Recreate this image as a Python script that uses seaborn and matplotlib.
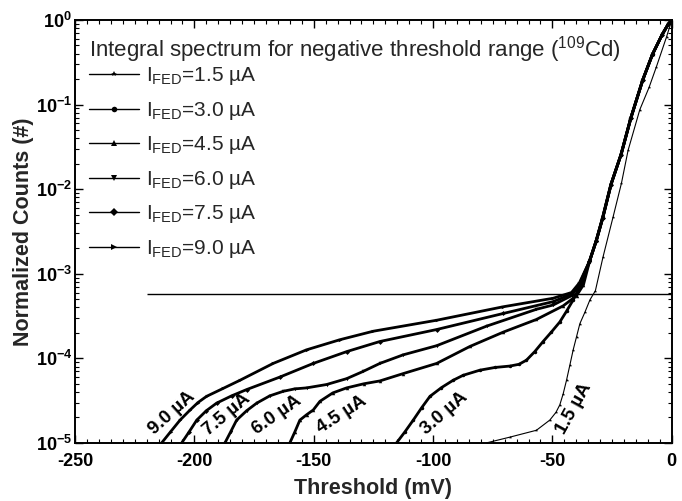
import numpy as np
import pandas as pd
import matplotlib
matplotlib.use("Agg")
import matplotlib.pyplot as plt
import seaborn as sns
from matplotlib.ticker import MultipleLocator, LogLocator, FuncFormatter, NullFormatter

# ---------------- data ----------------
series_names = ["1.5", "3.0", "4.5", "6.0", "7.5", "9.0"]

thr_1p5 = [-77.6, -67.8, -56.7, -51.1, -48.5, -46.9, -45.5, -44.1, -42.7, -41.3, -39.9, -38.5,
           -36.4, -34.3, -32.0, -28.8, -24.6, -21.1, -18.3, -13.4, -9.5, -6.4, -2.2, 0.0]
cnt_1p5 = [1.0e-5, 1.17e-5, 1.41e-5, 1.86e-5, 2.3e-5, 2.82e-5, 3.8e-5, 5.5e-5, 8.3e-5, 1.26e-4,
           1.8e-4, 2.57e-4, 3.5e-4, 4.9e-4, 6.3e-4, 1.58e-3, 4.68e-3, 1.17e-2, 2.88e-2, 8.7e-2,
           0.16, 0.282, 0.631, 1.0]

thr_3p0 = [-115.3, -111.8, -108.3, -104.8, -101.3, -96.5, -91.6, -87.4, -80.4, -74.0, -67.8,
           -64.0, -60.9, -57.4, -53.9, -50.4, -46.9, -44.1, -41.3, -37.8, -34.5, -31.6, -28.9,
           -25.4, -21.2, -17.1, -12.1, -8.0, -4.0, -1.5, 0.0]
cnt_3p0 = [1.0e-5, 1.35e-5, 1.86e-5, 2.6e-5, 3.55e-5, 4.5e-5, 5.5e-5, 6.3e-5, 7.24e-5, 7.8e-5,
           8.1e-5, 8.5e-5, 9.5e-5, 1.2e-4, 1.58e-4, 2.05e-4, 2.69e-4, 3.6e-4, 4.9e-4, 7.76e-4,
           1.38e-3, 2.45e-3, 4.6e-3, 1.15e-2, 2.6e-2, 7.0e-2, 0.198, 0.398, 0.676, 0.891, 1.0]

thr_4p5 = [-160.0, -157.9, -155.8, -153.0, -150.2, -147.4, -142.0, -136.2, -129.0, -122.3,
           -112.5, -98.5, -84.6, -70.6, -56.7, -45.5, -39.9, -37.0, -34.3, -31.5, -28.8, -25.3,
           -21.1, -17.0, -12.0, -8.0, -4.0, -1.5, 0.0]
cnt_4p5 = [1.0e-5, 1.35e-5, 1.86e-5, 2.15e-5, 2.45e-5, 3.1e-5, 3.9e-5, 4.47e-5, 5.0e-5, 5.4e-5,
           6.6e-5, 8.7e-5, 1.38e-4, 2.04e-4, 2.88e-4, 4.17e-4, 5.5e-4, 7.4e-4, 1.45e-3, 2.51e-3,
           4.68e-3, 1.17e-2, 2.63e-2, 7.08e-2, 0.200, 0.398, 0.676, 0.891, 1.0]

thr_6p0 = [-187.2, -184.8, -182.3, -178.1, -173.9, -168.4, -162.8, -158.0, -153.0, -144.6,
           -136.2, -129.3, -122.3, -112.5, -98.5, -77.6, -56.7, -49.7, -42.0, -38.5, -34.4,
           -31.6, -28.9, -25.4, -21.2, -17.1, -12.1, -8.1, -4.0, -1.5, 0.0]
cnt_6p0 = [1.0e-5, 1.35e-5, 1.86e-5, 2.4e-5, 2.95e-5, 3.6e-5, 4.07e-5, 4.35e-5, 4.47e-5, 4.9e-5,
           5.75e-5, 7.0e-5, 8.7e-5, 1.10e-4, 1.41e-4, 2.4e-4, 3.8e-4, 4.27e-4, 5.5e-4, 7.4e-4,
           1.42e-3, 2.48e-3, 4.6e-3, 1.15e-2, 2.6e-2, 7.0e-2, 0.198, 0.395, 0.672, 0.89, 1.0]

thr_7p5 = [-205.3, -202.2, -199.0, -195.0, -190.7, -184.4, -178.1, -164.2, -150.2, -136.2,
           -122.3, -98.5, -70.6, -49.7, -42.0, -38.6, -34.5, -31.7, -29.0, -25.5, -21.3, -17.2,
           -12.2, -8.1, -4.1, -1.5, 0.0]
cnt_7p5 = [1.0e-5, 1.35e-5, 1.86e-5, 2.4e-5, 2.95e-5, 3.6e-5, 4.27e-5, 6.0e-5, 8.7e-5, 1.20e-4,
           1.58e-4, 2.19e-4, 3.39e-4, 4.68e-4, 5.75e-4, 7.6e-4, 1.4e-3, 2.45e-3, 4.55e-3, 1.13e-2,
           2.55e-2, 6.9e-2, 0.195, 0.39, 0.67, 0.89, 1.0]

thr_9p0 = [-213.7, -210.0, -206.0, -201.8, -198.5, -194.9, -188.0, -180.9, -167.0, -153.0,
           -139.0, -125.1, -98.5, -70.6, -49.7, -42.0, -38.7, -34.6, -31.8, -29.1, -25.6, -21.4,
           -17.3, -12.3, -8.2, -4.1, -1.6, 0.0]
cnt_9p0 = [1.0e-5, 1.35e-5, 1.86e-5, 2.45e-5, 3.0e-5, 3.55e-5, 4.4e-5, 5.5e-5, 8.7e-5, 1.26e-4,
           1.66e-4, 2.09e-4, 2.82e-4, 4.07e-4, 5.13e-4, 6.0e-4, 7.8e-4, 1.38e-3, 2.4e-3, 4.5e-3,
           1.12e-2, 2.5e-2, 6.8e-2, 0.192, 0.385, 0.665, 0.885, 1.0]

hline_level = 5.8e-4
hline_start = -220
hline_end = 0

legend_title = "Integral spectrum for negative threshold range ($^{109}$Cd)"
legend_labels = [r"I$_{\mathrm{FED}}$=" + s + " \u00b5A" for s in series_names]
curve_labels = [s + " \u00b5A" for s in series_names]

x_ticks = [-250, -200, -150, -100, -50, 0]

# ---------------- style ----------------
sns.set_theme(style="ticks")
plt.rcParams["font.family"] = ["Liberation Sans", "DejaVu Sans"]
plt.rcParams["mathtext.fontset"] = "custom"
plt.rcParams["mathtext.rm"] = "Liberation Sans"
plt.rcParams["mathtext.it"] = "Liberation Sans:italic"
plt.rcParams["mathtext.bf"] = "Liberation Sans:bold"

thr_all = [thr_1p5, thr_3p0, thr_4p5, thr_6p0, thr_7p5, thr_9p0]
cnt_all = [cnt_1p5, cnt_3p0, cnt_4p5, cnt_6p0, cnt_7p5, cnt_9p0]
rows = []
for name, lab, xs, ys in zip(series_names, legend_labels, thr_all, cnt_all):
    for xv, yv in zip(xs, ys):
        rows.append({"Threshold": xv, "Counts": yv, "series": lab})
df = pd.DataFrame(rows)

fig = plt.figure(figsize=(6.82, 5.01), dpi=100)
ax = fig.add_axes([0.110, 0.116, 0.875, 0.844])

marker_list = ["*", "o", "^", "v", "D", ">"]
sns.lineplot(data=df, x="Threshold", y="Counts", hue="series", style="series",
             hue_order=legend_labels, style_order=legend_labels,
             palette=["black"] * 6, markers=marker_list, dashes=False,
             markersize=2.5, markeredgewidth=0, linewidth=2.0, sort=False,
             estimator=None, ax=ax, legend=True)

# thinner 1.5 uA curve
lines = ax.get_lines()
if lines:
    lines[0].set_linewidth(0.8)

ax.hlines(hline_level, hline_start, hline_end, color="black", linewidth=1.0)

ax.set_yscale("log")
ax.set_xlim(-250, 0)
ax.set_ylim(1e-5, 1)

ax.set_xticks(x_ticks)
ax.xaxis.set_minor_locator(MultipleLocator(5))
ax.yaxis.set_major_locator(LogLocator(base=10, numticks=10))
ax.yaxis.set_minor_locator(LogLocator(base=10, subs=np.arange(2, 10), numticks=20))
ax.yaxis.set_minor_formatter(NullFormatter())
ax.yaxis.set_major_formatter(FuncFormatter(lambda v, p: r"$\mathbf{10^{%d}}$" % int(round(np.log10(v)))))
ax.xaxis.set_major_formatter(FuncFormatter(lambda v, p: "%d" % v))

ax.tick_params(which="both", direction="in", top=True, right=True, colors="black")
ax.tick_params(which="major", length=6, width=1.0, labelsize=13)
ax.tick_params(axis="x", which="major", pad=7)
ax.tick_params(axis="y", which="major", pad=2)
ax.tick_params(which="minor", length=3, width=0.8)
for lbl in ax.get_xticklabels():
    lbl.set_fontweight("bold")
for sp in ax.spines.values():
    sp.set_linewidth(1.4)
    sp.set_color("black")

ax.set_xlabel("Threshold (mV)", fontsize=15.5, fontweight="bold", labelpad=6)
ax.set_ylabel("Normalized Counts (#)", fontsize=15.5, fontweight="bold", labelpad=1)

# legend
handles, labels = ax.get_legend_handles_labels()
leg = ax.legend(handles, labels, title=legend_title, loc="upper left",
                bbox_to_anchor=(0.024, 0.966), borderaxespad=0, borderpad=0,
                frameon=False, fontsize=15, title_fontsize=16, handlelength=2.4,
                handletextpad=0.3, labelspacing=0.60)
leg._legend_box.align = "left"
leg._legend_box.sep = 0
for h in leg.legend_handles:
    h.set_linewidth(1.0)
    h.set_markersize(4)

# curve annotations
label_x = [-41.0, -95.1, -138.3, -165.5, -186.5, -209.5]
label_y = [2.57e-5, 2.24e-5, 2.14e-5, 2.14e-5, 2.14e-5, 2.24e-5]
label_rot = [61, 41, 33, 35, 40, 42]
for t, xv, yv, r in zip(curve_labels, label_x, label_y, label_rot):
    ax.text(xv, yv, t, fontsize=13.5, fontweight="bold", rotation=r,
            ha="center", va="center", rotation_mode="anchor", color="black")

fig.savefig("out.png", dpi=100)
